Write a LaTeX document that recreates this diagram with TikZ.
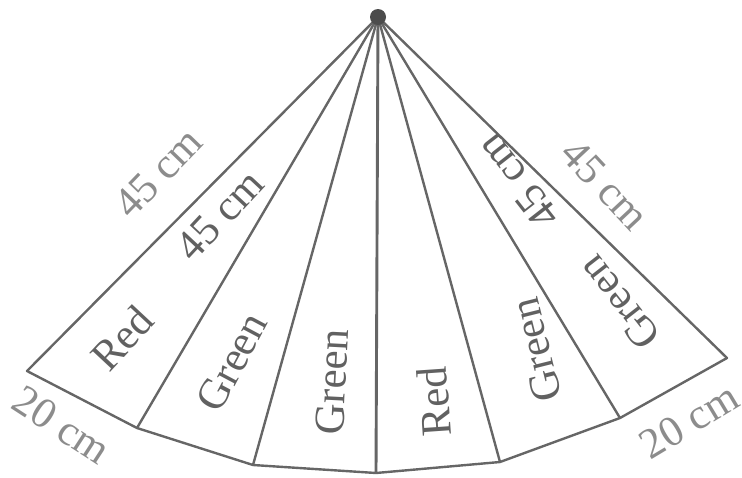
\documentclass[tikz,border=0pt]{standalone}
\usepackage{fontspec}
\setmainfont{Liberation Serif}
\begin{document}
\begin{tikzpicture}[x=1pt,y=-1pt,
  edge/.style={draw=black!60,line width=2.4pt,line join=round},
  lbl/.style={text=black!62,font=\fontsize{43}{43}\selectfont,inner sep=0pt},
  outer/.style={text=black!45,font=\fontsize{43}{43}\selectfont,inner sep=0pt}]
\useasboundingbox (0,0) rectangle (742,477);
\coordinate (A) at (378,17);
\coordinate (P0) at (27,371);
\coordinate (P1) at (137,428);
\coordinate (P2) at (253,465);
\coordinate (P3) at (376,473);
\coordinate (P4) at (500,462);
\coordinate (P5) at (620,418);
\coordinate (P6) at (727,358);
% outline
\draw[edge] (A) -- (P0) -- (P1) -- (P2) -- (P3) -- (P4) -- (P5) -- (P6) -- cycle;
% dividers
\foreach \p in {P1,P2,P4,P5} \draw[edge] (A) -- (\p);
\draw[edge,line width=2.9pt] (A) -- (P3);
% apex blob
\fill[black!70] (378,17) circle (8pt);
% labels
\node[outer,rotate=46] (l45o) at (158,173) {45 cm};
\node[lbl,rotate=47] (l45i) at (220,215) {45 cm};
\node[lbl,rotate=47] (r1) at (122,338) {Red};
\node[lbl,rotate=62] (g2) at (232,362) {Green};
\node[lbl,rotate=87] (g3) at (332,382) {Green};
\node[lbl,rotate=94] (r4) at (434,402) {Red};
\node[lbl,rotate=104] (g5) at (536,350) {Green};
\node[lbl,rotate=128] (g6) at (619,303) {Green};
\node[lbl,rotate=128] (r45i) at (518,182) {45 cm};
\node[outer,rotate=-47] (r45o) at (605,185) {45 cm};
\node[outer,rotate=-33] (l20) at (62,425) {20 cm};
\node[outer,rotate=31] (r20) at (689,421) {20 cm};
\end{tikzpicture}
\end{document}
